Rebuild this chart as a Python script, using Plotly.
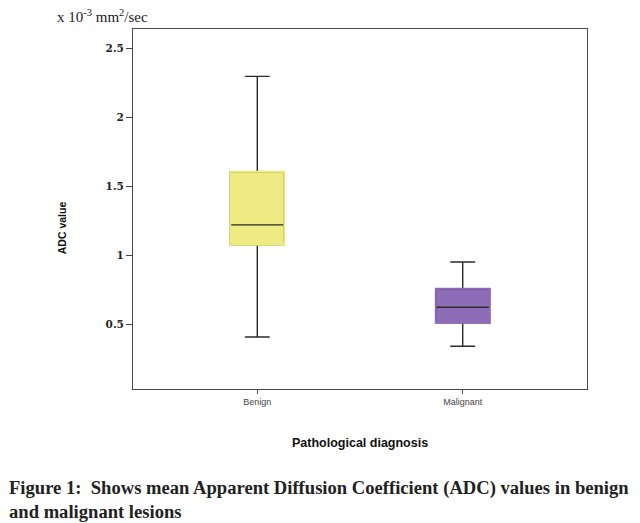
import plotly.graph_objects as go

# Data (ADC values, x 10^-3 mm^2/sec)
categories = ["Benign", "Malignant"]
lower_whisker = [0.41, 0.343]
q1_values = [1.078, 0.512]
medians = [1.222, 0.625]
q3_values = [1.607, 0.76]
upper_whisker = [2.298, 0.953]
fill_colors = ["#EEEB82", "#8D6DB8"]
y_tick_vals = [0.5, 1, 1.5, 2, 2.5]
y_tick_text = ["0.5", "1", "1.5", "2", "2.5"]

fig = go.Figure()

for i, cat in enumerate(categories):
    # main box: whiskers, median (dark lines) and fill
    fig.add_trace(go.Box(
        x=[cat], q1=[q1_values[i]], median=[medians[i]], q3=[q3_values[i]],
        lowerfence=[lower_whisker[i]], upperfence=[upper_whisker[i]],
        fillcolor=fill_colors[i], line=dict(color="#2a2a2a", width=1.4),
        width=0.263, whiskerwidth=0.46, boxpoints=False, showlegend=False,
        hoverinfo="skip",
    ))
    # outline overlay in fill colour (box in reference has no dark border)
    fig.add_trace(go.Box(
        x=[cat], q1=[q1_values[i]], median=[q1_values[i]], q3=[q3_values[i]],
        lowerfence=[q1_values[i]], upperfence=[q3_values[i]],
        fillcolor="rgba(0,0,0,0)", line=dict(color=fill_colors[i], width=1.8),
        width=0.263, whiskerwidth=0, boxpoints=False, showlegend=False,
        hoverinfo="skip",
    ))

fig.update_layout(
    width=632, height=515,
    margin=dict(l=125, r=53, t=21, b=134),
    paper_bgcolor="white", plot_bgcolor="white",
    boxmode="overlay",
    xaxis=dict(
        type="category", range=[-0.605, 1.605],
        showline=True, linecolor="#4a4a4a", linewidth=1, mirror=True,
        ticks="outside", ticklen=4, tickcolor="#555", tickwidth=1,
        tickfont=dict(family="Liberation Sans, Arial", size=9, color="#444"),
        showgrid=False, zeroline=False,
    ),
    yaxis=dict(
        range=[0.033, 2.641],
        tickvals=y_tick_vals, ticktext=y_tick_text,
        showline=True, linecolor="#4a4a4a", linewidth=1, mirror=True,
        ticks="outside", ticklen=6, tickcolor="#444", tickwidth=1,
        tickfont=dict(family="DejaVu Serif, serif", size=10.5,
                      color="#222", weight="bold"),
        showgrid=False, zeroline=False,
    ),
    annotations=[
        dict(text="x 10<sup>-3</sup> mm<sup>2</sup>/sec", xref="paper", yref="paper",
             x=-0.172, y=1.036, xanchor="left", yanchor="middle", showarrow=False,
             font=dict(family="Liberation Serif, Times New Roman, serif", size=15, color="#222")),
        dict(text="<b>ADC value</b>", xref="paper", yref="paper",
             x=-0.156, y=0.447, xanchor="center", yanchor="middle", textangle=-90,
             showarrow=False,
             font=dict(family="Liberation Sans, Arial", size=10.5, color="#111")),
        dict(text="<b>Pathological diagnosis</b>", xref="paper", yref="paper",
             x=0.5, y=-0.15, xanchor="center", yanchor="middle", showarrow=False,
             font=dict(family="Liberation Sans, Arial", size=12.5, color="#111")),
        dict(text="<b>Figure 1:  Shows mean Apparent Diffusion Coefficient (ADC) values in benign<br>and malignant lesions</b>",
             xref="paper", yref="paper", x=-0.2775, y=-0.3056, xanchor="left", yanchor="middle",
             align="left", showarrow=False,
             font=dict(family="Liberation Serif, Times New Roman, serif", size=18.6, color="#222")),
    ],
)

fig.write_html("out.html")
